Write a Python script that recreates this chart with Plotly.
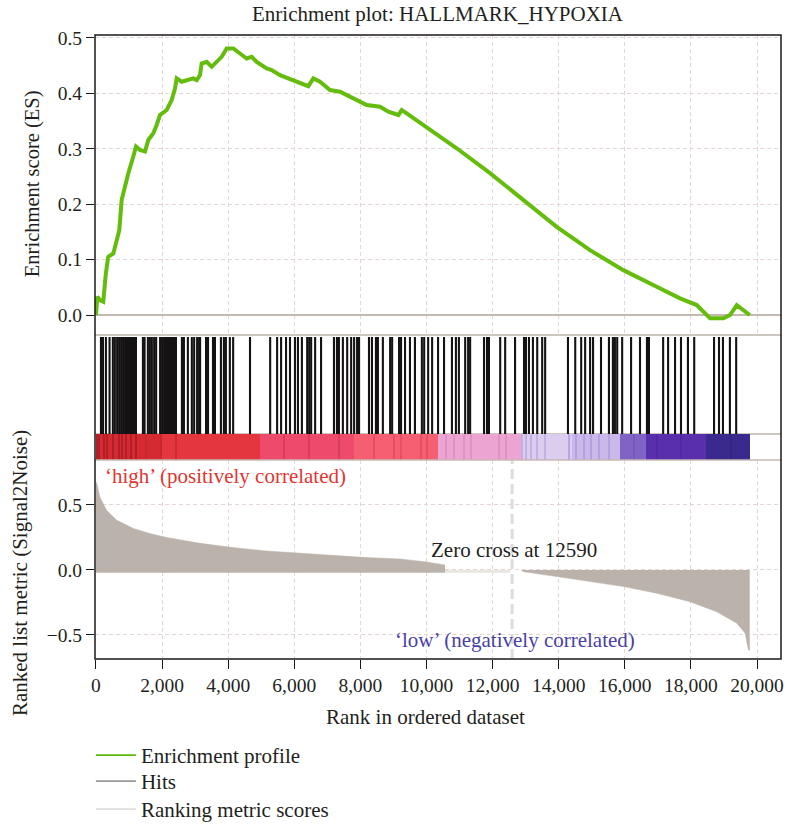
import plotly.graph_objects as go

# ---------------------------------------------------------------- data
N_GENES = 19780
ZERO_CROSS = 12590
TITLE = "Enrichment plot: HALLMARK_HYPOXIA"

# running enrichment score
es_rank = [0, 40, 120, 220, 300, 370, 525, 625, 705, 777, 877, 978, 1129, 1210,
           1331, 1483, 1583, 1734, 1836, 1937, 2139, 2290, 2391, 2441, 2593, 2794,
           2945, 3046, 3147, 3197, 3349, 3500, 3651, 3803, 3954, 4155, 4357, 4559,
           4710, 4862, 5164, 5315, 5568, 5971, 6173, 6425, 6576, 6778, 7081, 7384,
           7787, 8191, 8594, 8846, 9149, 9250, 9401, 9905, 10914, 11922, 12930,
           13939, 14948, 15956, 16965, 17672, 18177, 18580, 18983, 19185, 19387,
           19780]
es_score = [0.0, 0.033, 0.027, 0.024, 0.076, 0.105, 0.111, 0.135, 0.153, 0.208,
            0.235, 0.256, 0.286, 0.304, 0.298, 0.295, 0.316, 0.328, 0.343, 0.361,
            0.370, 0.388, 0.409, 0.427, 0.421, 0.424, 0.427, 0.424, 0.433, 0.454,
            0.457, 0.448, 0.457, 0.466, 0.481, 0.481, 0.472, 0.463, 0.466, 0.457,
            0.445, 0.442, 0.433, 0.424, 0.418, 0.413, 0.427, 0.421, 0.406, 0.403,
            0.391, 0.379, 0.376, 0.367, 0.361, 0.370, 0.364, 0.343, 0.301, 0.256,
            0.208, 0.159, 0.117, 0.081, 0.051, 0.030, 0.018, -0.006, -0.006, 0.0,
            0.018, 0.0]

# positions of gene-set members in the ranked list
hit_rank = [150, 210, 300, 410, 510, 570, 640, 700, 760, 820, 880, 920, 970, 1030,
            1090, 1150, 1210, 1420, 1470, 1570, 1630, 1690, 1760, 1820, 1940, 2000,
            2060, 2120, 2180, 2240, 2300, 2360, 2420, 2600, 2660, 2780, 2900, 2970,
            3060, 3120, 3150, 3330, 3390, 3540, 3600, 3780, 3870, 3930, 4050, 4150,
            4660, 5270, 5480, 5600, 5750, 5870, 6020, 6110, 6230, 6390, 6450, 6510,
            6630, 6810, 7200, 7290, 7350, 7470, 7600, 7720, 7810, 7900, 7960, 8260,
            8350, 8470, 8530, 8680, 8900, 8960, 9170, 9230, 9350, 9500, 9650, 9860,
            9930, 10050, 10170, 10350, 10530, 10770, 10890, 10980, 11170, 11260,
            11320, 11740, 11830, 11890, 12230, 12380, 12680, 12950, 13010, 13100,
            13220, 13350, 13500, 13590, 14280, 14500, 14680, 14800, 14950, 15040,
            15280, 15520, 15640, 15700, 15770, 15920, 16190, 16460, 16670, 16730,
            17160, 17310, 17520, 17700, 17910, 18100, 18700, 18850, 18970, 19180,
            19370]

# ranked list metric (Signal2Noise)
metric_rank_pos = [0, 30, 120, 320, 620, 1130, 1630, 2140, 3150, 4150, 5160, 6170,
                   7180, 8190, 9200, 10000, 10560]
metric_pos = [0.68, 0.66, 0.56, 0.46, 0.385, 0.32, 0.28, 0.25, 0.205, 0.172, 0.146,
              0.128, 0.11, 0.095, 0.085, 0.062, 0.038]
metric_rank_neg = [12860, 12930, 13940, 14950, 15960, 16970, 17970, 18780, 19390,
                   19640, 19740, 19780]
metric_neg = [0.0, -0.013, -0.051, -0.09, -0.128, -0.18, -0.244, -0.321, -0.41,
              -0.487, -0.615, -0.62]

# colour band along the ranked list
band_start = [0, 2000, 4960, 7800, 10360, 12860, 14400, 15860, 16640, 18450]
band_color = ["#d52a31", "#e3363e", "#ee4a6b", "#f55f71", "#eca4d2", "#dacdee",
              "#cab8ea", "#8163c5", "#5a2fad", "#3b2a8d"]
stripe_rank = [30, 90, 240, 330, 510, 700, 790, 910, 1060, 1210, 1510, 1970, 2420,
               5690, 6450, 7350, 8410, 9020, 9230, 9830, 10020, 10590, 10830, 11140,
               11350, 12190, 12410, 12890, 13010, 13160, 13350, 13590, 14310, 14530,
               14770, 14980, 15220, 15520, 16280, 16980, 17700, 19210]
stripe_color = ["#a81c23"] * 10 + ["#c4262c"] * 3 + ["#d23c58"] * 3 + \
               ["#e04c60"] * 5 + ["#dc8cc4"] * 6 + ["#bba8e2"] * 5 + \
               ["#ae98de"] * 6 + ["#7356bd", "#4f27a0", "#4f27a0", "#33237f"]

legend_names = ["Enrichment profile", "Hits", "Ranking metric scores"]
legend_colors = ["#5cb80a", "#9a9a9a", "#dddddd"]

# ---------------------------------------------------------------- style
FONT = "Liberation Serif"
TXT = "#231f20"
GRID = "#e3d6d3"
FILL = "#bbb3ab"
X_RANGE = [-30, 20726]

# panel layout (fractions of the plotting area)
TOP_DOM = [0.5192, 1.0]
MID_DOM = [0.3189, 0.5192]
BOT_DOM = [0.0, 0.3189]
BAND_TOP = 0.208
HIT_TOP = 0.984
LEGEND_Y = [-0.1218, -0.1635, -0.2083]

fig = go.Figure()

# enrichment profile
fig.add_trace(go.Scatter(x=es_rank, y=es_score, mode="lines",
                         line=dict(color="#64bc0c", width=4),
                         xaxis="x", yaxis="y", showlegend=False, hoverinfo="skip"))

# colour band
band_end = band_start[1:] + [N_GENES]
fig.add_trace(go.Bar(x=[(a + b) / 2 for a, b in zip(band_start, band_end)],
                     y=[BAND_TOP] * len(band_start),
                     width=[b - a for a, b in zip(band_start, band_end)],
                     marker=dict(color=band_color, line=dict(width=0)),
                     xaxis="x2", yaxis="y2", showlegend=False, hoverinfo="skip"))
fig.add_trace(go.Bar(x=stripe_rank, y=[BAND_TOP] * len(stripe_rank),
                     width=[30] * len(stripe_rank),
                     marker=dict(color=stripe_color, line=dict(width=0)), opacity=0.75,
                     xaxis="x2", yaxis="y2", showlegend=False, hoverinfo="skip"))

# hits
hx, hy = [], []
for r in hit_rank:
    hx += [r, r, None]
    hy += [BAND_TOP, HIT_TOP, None]
fig.add_trace(go.Scatter(x=hx, y=hy, mode="lines", line=dict(color="#141212", width=2.1),
                         xaxis="x2", yaxis="y2", showlegend=False, hoverinfo="skip"))

# ranked list metric
fig.add_trace(go.Scatter(x=metric_rank_pos, y=metric_pos, mode="lines", fill="tozeroy",
                         fillcolor=FILL, line=dict(color=FILL, width=0.5),
                         xaxis="x3", yaxis="y3", showlegend=False, hoverinfo="skip"))
fig.add_trace(go.Scatter(x=metric_rank_neg, y=metric_neg, mode="lines", fill="tozeroy",
                         fillcolor=FILL, line=dict(color=FILL, width=0.5),
                         xaxis="x3", yaxis="y3", showlegend=False, hoverinfo="skip"))

# legend entries, one legend box per row
legend_ids = ["legend", "legend2", "legend3"]
for name, col, lid in zip(legend_names, legend_colors, legend_ids):
    fig.add_trace(go.Scatter(x=[None], y=[None], mode="lines", name=name, legend=lid,
                             line=dict(color=col, width=1.8), xaxis="x", yaxis="y"))

shapes = [
    # thin strip under the zero line of the metric panel
    dict(type="rect", xref="x3", yref="y3", x0=0, x1=metric_rank_pos[-1], y0=-0.022, y1=0,
         fillcolor=FILL, line=dict(width=0), layer="above"),
    dict(type="rect", xref="x3", yref="y3", x0=metric_rank_pos[-1], x1=ZERO_CROSS - 60,
         y0=-0.022, y1=0, fillcolor="#e9e5e1", line=dict(width=0), layer="above"),
    # zero-cross marker
    dict(type="line", xref="x3", yref="y3 domain", x0=ZERO_CROSS, x1=ZERO_CROSS, y0=0, y1=1,
         line=dict(color="#dcdcdc", width=3, dash="10px,5px"), layer="above"),
    # panel separators
    dict(type="line", xref="paper", yref="paper", x0=0, x1=1, y0=TOP_DOM[0], y1=TOP_DOM[0],
         line=dict(color="#bcb4ac", width=1.5)),
    dict(type="line", xref="paper", yref="paper", x0=0, x1=1, y0=0.3606, y1=0.3606,
         line=dict(color="#bcb4ac", width=1.5), layer="below"),
    dict(type="line", xref="paper", yref="paper", x0=0, x1=1, y0=MID_DOM[0], y1=MID_DOM[0],
         line=dict(color="#c8b8b4", width=1.5)),
    # outer frame
    dict(type="rect", xref="paper", yref="paper", x0=0, x1=1, y0=0, y1=1,
         line=dict(color="#1a1a1a", width=1.5)),
]

annotations = [
    dict(text=TITLE, xref="paper", yref="paper", x=0.5, y=1.0337, xanchor="center",
         yanchor="middle", showarrow=False, font=dict(size=21, color=TXT)),
    dict(text="Enrichment score (ES)", xref="paper", yref="paper", x=-0.0918, y=0.761,
         textangle=-90, xanchor="center", yanchor="middle", showarrow=False,
         font=dict(size=20.5, color=TXT)),
    dict(text="Ranked list metric (Signal2Noise)", xref="paper", yref="paper",
         x=-0.1093, y=0.1378, textangle=-90, xanchor="center", yanchor="middle",
         showarrow=False, font=dict(size=21, color=TXT)),
    dict(text="Rank in ordered dataset", xref="paper", yref="paper", x=0.4825, y=-0.093,
         xanchor="center", yanchor="middle", showarrow=False, font=dict(size=21, color=TXT)),
    dict(text="\u2018high\u2019 (positively correlated)", xref="paper", yref="paper",
         x=0.0117, y=0.2933, xanchor="left", yanchor="middle", showarrow=False,
         font=dict(size=21, color="#e2352f")),
    dict(text=f"Zero cross at {ZERO_CROSS}", xref="paper", yref="paper", x=0.487, y=0.1747,
         xanchor="left", yanchor="middle", showarrow=False, font=dict(size=21, color=TXT)),
    dict(text="\u2018low\u2019 (negatively correlated)", xref="paper", yref="paper",
         x=0.4344, y=0.0304, xanchor="left", yanchor="middle", showarrow=False,
         font=dict(size=21, color="#4a3fa6")),
]

grid_common = dict(showgrid=True, gridcolor=GRID, gridwidth=1, griddash="4px,3px")
tick_font = dict(family=FONT, size=19.5, color=TXT)


def legend_box(ypos):
    return dict(x=-0.006, y=ypos, xanchor="left", yanchor="top", bgcolor="rgba(0,0,0,0)",
                font=dict(size=21, color=TXT), tracegroupgap=0, itemwidth=40)


fig.update_layout(
    width=787, height=824,
    margin=dict(l=95, r=6, t=35, b=165, autoexpand=False),
    paper_bgcolor="white", plot_bgcolor="white",
    font=dict(family=FONT, color=TXT, size=21),
    barmode="overlay", bargap=0,
    showlegend=True,
    legend=legend_box(LEGEND_Y[0]),
    legend2=legend_box(LEGEND_Y[1]),
    legend3=legend_box(LEGEND_Y[2]),
    xaxis=dict(domain=[0, 1], range=X_RANGE, anchor="y", showticklabels=False,
               dtick=2000, tick0=0, zeroline=False, **grid_common),
    yaxis=dict(domain=TOP_DOM, range=[-0.0361, 0.5054], anchor="x", dtick=0.1, tick0=0,
               tickformat=".1f", ticks="outside", ticklen=8, tickcolor="#1a1a1a",
               tickfont=tick_font, zeroline=True, zerolinecolor="#c2bab2",
               zerolinewidth=2, **grid_common),
    xaxis2=dict(domain=[0, 1], range=X_RANGE, anchor="y2", showticklabels=False,
                showgrid=False, zeroline=False),
    yaxis2=dict(domain=MID_DOM, range=[0, 1], anchor="x2", showticklabels=False,
                showgrid=False, zeroline=False),
    xaxis3=dict(domain=[0, 1], range=X_RANGE, anchor="y3", dtick=2000, tick0=0,
                tickformat=",d", ticks="outside", ticklen=9, tickcolor="#1a1a1a",
                tickfont=tick_font, zeroline=False, **grid_common),
    yaxis3=dict(domain=BOT_DOM, range=[-0.685, 0.846], anchor="x3", tickvals=[-0.5, 0, 0.5],
                tickformat=".1f", ticks="outside", ticklen=8, tickcolor="#1a1a1a",
                tickfont=tick_font, zeroline=False, **grid_common),
    shapes=shapes,
    annotations=annotations,
)

fig.write_html("out.html")
